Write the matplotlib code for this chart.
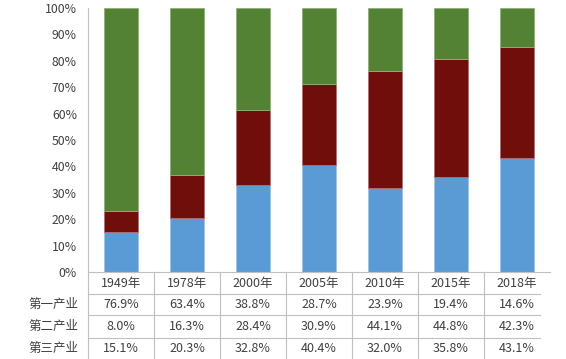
import matplotlib.pyplot as plt
import numpy as np

plt.rcParams['font.family'] = ['Noto Sans CJK SC', 'DejaVu Sans']

years = ['1949年', '1978年', '2000年', '2005年', '2010年', '2015年', '2018年']
row_names = ['第一产业', '第二产业', '第三产业']
primary = [76.9, 63.4, 38.8, 28.7, 23.9, 19.4, 14.6]
secondary = [8.0, 16.3, 28.4, 30.9, 44.1, 44.8, 42.3]
tertiary = [15.1, 20.3, 32.8, 40.4, 32.0, 35.8, 43.1]

c_blue = '#5b9bd5'
c_red = '#6f0e0b'
c_green = '#548235'
txt = '#404040'
line_c = '#c0c0c0'

fig = plt.figure(figsize=(5.66, 3.59), dpi=100)
H = 359.0
ax = fig.add_axes([88 / 566, (H - 272) / H, 462 / 566, 264 / H])

x = np.arange(len(years))
t = np.array(tertiary) / 100
s = np.array(secondary) / 100
p = np.array(primary) / 100
w = 0.52
ax.bar(x, t, w, color=c_blue, edgecolor='#9dc3e6', linewidth=0.6)
ax.bar(x, s, w, bottom=t, color=c_red, edgecolor='#b07070', linewidth=0.6)
ax.bar(x, p, w, bottom=t + s, color=c_green, edgecolor='#8fb07a', linewidth=0.6)

ax.set_xlim(-0.5, len(years) - 0.5)
ax.set_ylim(0, 1)
ax.set_yticks(np.arange(0, 1.01, 0.1))
ax.set_yticklabels([f'{int(v)}%' for v in np.arange(0, 101, 10)], fontsize=8.8, color=txt)
ax.tick_params(axis='y', length=0, pad=8)
ax.set_xticks([])
for sp in ['top', 'right']:
    ax.spines[sp].set_visible(False)
for sp in ['left', 'bottom']:
    ax.spines[sp].set_color(line_c)
    ax.spines[sp].set_linewidth(0.8)

# table under the bars
def ay(py):
    return (272 - py) / 264.0

tr = ax.get_xaxis_transform()
x_right = (540 - 88) / 66.0 - 0.5

for py in [294, 315, 338]:
    ax.plot([-0.5, x_right], [ay(py), ay(py)], color=line_c, lw=0.8,
            transform=tr, clip_on=False)
for k in range(len(years)):
    ax.plot([k - 0.5, k - 0.5], [0, ay(359)], color=line_c, lw=0.8,
            transform=tr, clip_on=False)

row_y = [304, 326, 348]
for i, yr in enumerate(years):
    ax.text(i, ay(283), yr, ha='center', va='center', fontsize=9,
            color=txt, transform=tr, clip_on=False)
for vals, py, name in zip([primary, secondary, tertiary], row_y, row_names):
    ax.text(-0.65, ay(py), name, ha='right', va='center', fontsize=9,
            color=txt, transform=tr, clip_on=False)
    for i, v in enumerate(vals):
        ax.text(i, ay(py), f'{v:.1f}%', ha='center', va='center', fontsize=9,
                color=txt, transform=tr, clip_on=False)

fig.savefig('out.png', dpi=100)
